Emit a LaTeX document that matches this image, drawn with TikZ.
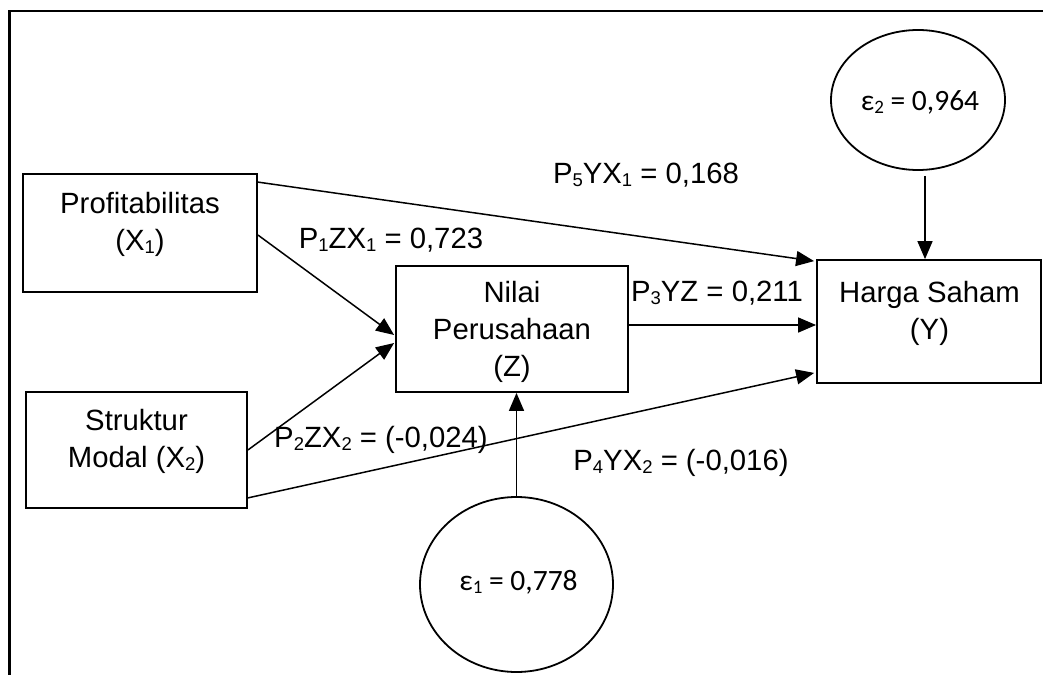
\documentclass[tikz,border=0pt]{standalone}
\usepackage{fontspec}
\setmainfont{Liberation Sans}
\newfontfamily\calfont{Carlito}
\usetikzlibrary{arrows.meta,shapes.geometric,calc}
\newcommand\lsub[1]{\raisebox{-0.1em}{\fontsize{18.5}{18.5}\selectfont #1}}
\newcommand\esub[1]{\raisebox{-0.12em}{\fontsize{19}{19}\selectfont #1}}
\begin{document}
\begin{tikzpicture}[x=1pt,y=-1pt,
  box/.style={draw,line width=1.8pt,inner sep=0pt},
  txt/.style={inner sep=0pt,align=center,font=\fontsize{29.3}{37}\selectfont},
  errell/.style={draw,ellipse,line width=1.8pt,inner sep=0pt},
  etxt/.style={inner sep=0pt,font=\calfont\fontsize{29.5}{35}\selectfont},
  conn/.style={line width=1.5pt,-{Triangle[length=18pt,width=15pt]}}]
\useasboundingbox (0,0) rectangle (1043,674);
\clip (0,0) rectangle (1043,674);
\fill[white] (0,0) rectangle (1043,674);
% frame
\draw[line width=2.6pt] (1060,11) -- (9.5,11) -- (9.5,690);
% boxes
\node[box,minimum width=234pt,minimum height=118pt] (X1) at (140,233) {};
\node[box,minimum width=221pt,minimum height=116pt] (X2) at (136.5,450) {};
\node[box,minimum width=232pt,minimum height=126pt] (Z) at (512,329) {};
\node[box,minimum width=224pt,minimum height=123pt] (Y) at (929,321.5) {};
\node[errell,minimum width=174pt,minimum height=140pt] (E2) at (918,100) {};
\node[errell,minimum width=193pt,minimum height=175pt] (E1) at (516.5,584.5) {};
% box texts
\node[txt] (tX1) at (140,224) {Profitabilitas\\(X\lsub{1})};
\node[txt] (tX2) at (136.5,441.5) {Struktur\\Modal (X\lsub{2})};
\node[txt] (tZ) at (512,332) {Nilai\\Perusahaan\\(Z)};
\node[txt] (tY) at (929.5,313) {Harga Saham\\(Y)};
\node[etxt] (tE2) at (920,102) {ε\esub{2} = 0,964};
\node[etxt] (tE1) at (518.5,582) {ε\esub{1} = 0,778};
% connectors
\draw[conn] ([yshift=-9pt]X1.north east) -- ([xshift=-2pt,yshift=-2pt]Y.north west);
\draw[conn] ([yshift=-2pt]X1.east) -- ([xshift=-1pt,yshift=-6pt]Z.west);
\draw[conn] (X2.east) -- ([xshift=-1pt,yshift=-14pt]Z.west);
\draw[conn] ([yshift=11pt]X2.south east) -- ([xshift=-2pt,yshift=11pt]Y.south west);
\draw[conn] ([yshift=4pt]Z.east) -- ([yshift=4pt]Z.east -| Y.west);
\coordinate (e2s) at ([xshift=7pt,yshift=-5pt]E2.south);
\draw[conn] (e2s) -- (e2s |- Y.north);
\draw[conn] (E1.north) -- (E1.north |- Z.south);
% path labels
\node[txt] (l5) at (646,175) {P\lsub{5}YX\lsub{1} = 0,168};
\node[txt] (l1) at (391,240) {P\lsub{1}ZX\lsub{1} = 0,723};
\node[txt] (l3) at (717,293) {P\lsub{3}YZ = 0,211};
\node[txt] (l2) at (381,440) {P\lsub{2}ZX\lsub{2} = (-0,024)};
\node[txt] (l4) at (681,463) {P\lsub{4}YX\lsub{2} = (-0,016)};
\end{tikzpicture}
\end{document}
